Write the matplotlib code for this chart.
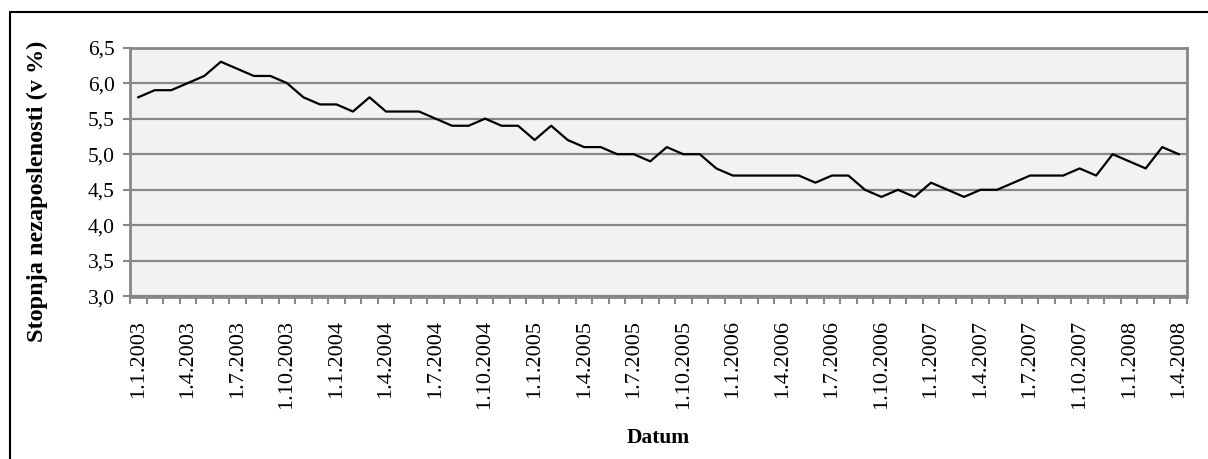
import matplotlib
matplotlib.use("Agg")
import matplotlib.pyplot as plt
from matplotlib.patches import Rectangle
import numpy as np

# monthly unemployment rate (%), 1.1.2003 - 1.4.2008
years = [2003, 2004, 2005, 2006, 2007, 2008]
rate_2003 = [5.8, 5.9, 5.9, 6.0, 6.1, 6.3, 6.2, 6.1, 6.1, 6.0, 5.8, 5.7]
rate_2004 = [5.7, 5.6, 5.8, 5.6, 5.6, 5.6, 5.5, 5.4, 5.4, 5.5, 5.4, 5.4]
rate_2005 = [5.2, 5.4, 5.2, 5.1, 5.1, 5.0, 5.0, 4.9, 5.1, 5.0, 5.0, 4.8]
rate_2006 = [4.7, 4.7, 4.7, 4.7, 4.7, 4.6, 4.7, 4.7, 4.5, 4.4, 4.5, 4.4]
rate_2007 = [4.6, 4.5, 4.4, 4.5, 4.5, 4.6, 4.7, 4.7, 4.7, 4.8, 4.7, 5.0]
rate_2008 = [4.9, 4.8, 5.1, 5.0]

rates = rate_2003 + rate_2004 + rate_2005 + rate_2006 + rate_2007 + rate_2008

# category labels "1.M.YYYY"
dates = []
for y, vals in zip(years, [rate_2003, rate_2004, rate_2005, rate_2006, rate_2007, rate_2008]):
    for m in range(len(vals)):
        dates.append("1.%d.%d" % (m + 1, y))

plt.rcParams['font.family'] = ['Liberation Serif', 'DejaVu Serif']
grey = '#878787'

fig = plt.figure(figsize=(12.08, 4.59), dpi=100)
ax = fig.add_axes([130 / 1208, 1 - 296.5 / 459, 1057 / 1208, 249 / 459])
ax.set_facecolor('#f2f2f2')

x = np.arange(len(rates))
ax.plot(x, rates, color='black', lw=1.6, zorder=3)

ax.set_xlim(-0.5, len(rates) - 0.5)
ax.set_ylim(3.0, 6.5)
yt = np.arange(3.0, 6.51, 0.5)
ax.set_yticks(yt)
ax.set_yticklabels([('%.1f' % v).replace('.', ',') for v in yt])
ax.grid(axis='y', color=grey, lw=1.6, zorder=1)
ax.set_axisbelow(True)

major = x[::3]
ax.set_xticks(major)
ax.set_xticklabels([dates[i] for i in major], rotation=90, fontsize=16)
ax.set_xticks(np.arange(-0.5, len(rates), 1), minor=True)
ax.tick_params(axis='x', which='major', length=0, pad=17)
ax.tick_params(axis='x', which='minor', length=5, width=1.5, color=grey)
ax.tick_params(axis='y', length=5, width=1.5, color=grey, labelsize=15.5, pad=6)

for s in ax.spines.values():
    s.set_color(grey)
    s.set_linewidth(2)

fig.text(37 / 1208, 1 - 191 / 459, 'Stopnja nezaposlenosti (v %)', rotation=90,
         ha='center', va='center', fontsize=17.5, fontweight='bold')
fig.text(658 / 1208, 1 - 438 / 459, 'Datum', ha='center', va='center',
         fontsize=15.5, fontweight='bold')

# outer chart border (cut by the image edges on right and bottom)
fig.patches.append(Rectangle((9.5 / 1208, -0.1), 1.2, 1 - 12.5 / 459 + 0.1,
                             transform=fig.transFigure, fill=False,
                             edgecolor='black', lw=1.5))

plt.savefig('out.png', dpi=100)
